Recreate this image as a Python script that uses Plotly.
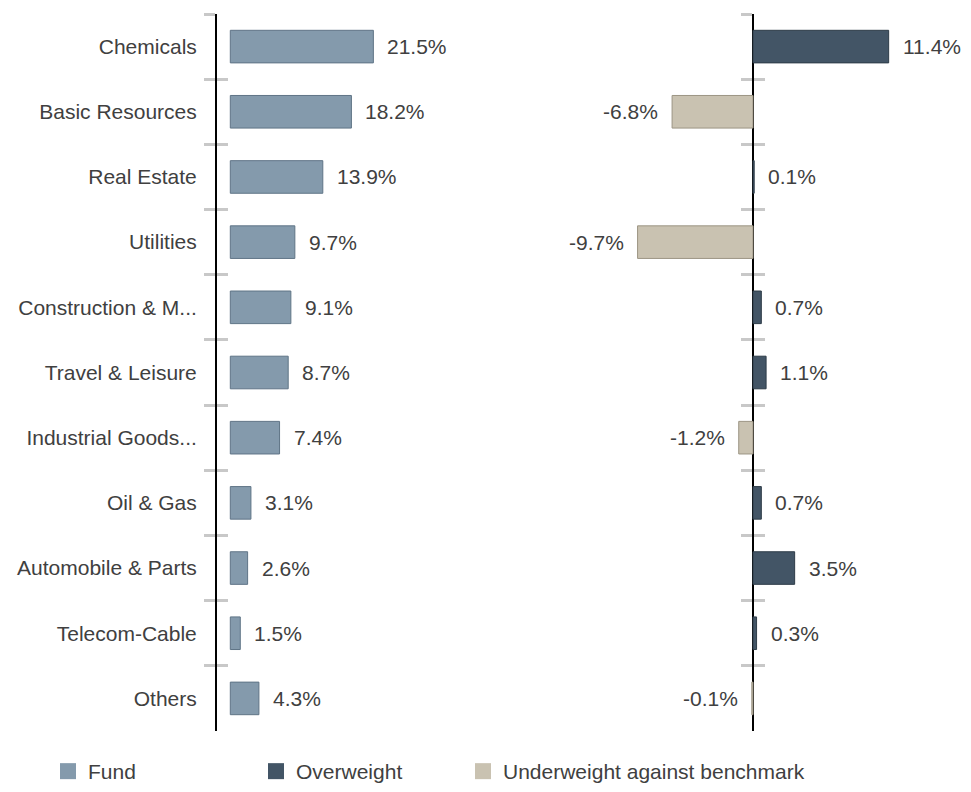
import plotly.graph_objects as go

categories = ["Chemicals", "Basic Resources", "Real Estate", "Utilities",
              "Construction & M...", "Travel & Leisure", "Industrial Goods...",
              "Oil & Gas", "Automobile & Parts", "Telecom-Cable", "Others"]
fund = [21.5, 18.2, 13.9, 9.7, 9.1, 8.7, 7.4, 3.1, 2.6, 1.5, 4.3]
active = [11.4, -6.8, 0.1, -9.7, 0.7, 1.1, -1.2, 0.7, 3.5, 0.3, -0.1]
legend_labels = ["Fund", "Overweight", "Underweight against benchmark"]

C_FUND = "#849aac"
C_OVER = "#435566"
C_UNDER = "#c9c2b1"
L_FUND = "#5f7486"
L_OVER = "#2e3c48"
L_UNDER = "#9c9584"
TXT = "#404040"
TICK = "#c8c8c8"
FONT = "Liberation Sans, Arial, sans-serif"
FS = 21

# figure sized so it fits inside the page body (default 8px margin)
W, H = 955, 776
ML, MR, MT, MB = 209, 0, 6, 53
PW = W - ML - MR
PH = H - MT - MB
split = (555 - ML) / PW
zero_pos = (745 - ML) / PW
right_scale = 11.9  # px per percentage point in the right panel
x2_range = [-(745 - 555) / right_scale, (W - 745) / right_scale]

over = [v if v >= 0 else None for v in active]
under = [v if v < 0 else None for v in active]

fig = go.Figure()
fig.add_trace(go.Bar(x=fund, y=categories, orientation="h", width=0.5,
                     marker=dict(color=C_FUND, line=dict(color=L_FUND, width=1)),
                     xaxis="x", yaxis="y", showlegend=False, hoverinfo="skip"))
fig.add_trace(go.Scatter(x=[0] * len(categories), y=categories, mode="markers",
                         marker=dict(opacity=0), xaxis="x", yaxis="y3",
                         showlegend=False, hoverinfo="skip"))
fig.add_trace(go.Bar(x=over, y=categories, orientation="h", width=0.5,
                     marker=dict(color=C_OVER, line=dict(color=L_OVER, width=1)),
                     xaxis="x2", yaxis="y2", showlegend=False, hoverinfo="skip"))
fig.add_trace(go.Bar(x=under, y=categories, orientation="h", width=0.5,
                     marker=dict(color=C_UNDER, line=dict(color=L_UNDER, width=1)),
                     xaxis="x2", yaxis="y2", showlegend=False, hoverinfo="skip"))
fig.add_trace(go.Scatter(x=[0] * len(categories), y=categories, mode="markers",
                         marker=dict(opacity=0), xaxis="x2", yaxis="y4",
                         showlegend=False, hoverinfo="skip"))

legend_ids = ["legend", "legend2", "legend3"]
for name, col, lid in zip(legend_labels, [C_FUND, C_OVER, C_UNDER], legend_ids):
    fig.add_trace(go.Scatter(x=[None], y=[None], mode="markers", name=name,
                             marker=dict(symbol="square", size=16, color=col),
                             xaxis="x", yaxis="y", legend=lid))

annotations = []
for c, v in zip(categories, fund):
    annotations.append(dict(x=v, y=c, xref="x", yref="y", text=f"{v:.1f}%",
                            showarrow=False, xanchor="left", xshift=12,
                            font=dict(size=FS, color=TXT, family=FONT)))
for c, v in zip(categories, active):
    annotations.append(dict(x=v, y=c, xref="x2", yref="y2", text=f"{v:.1f}%",
                            showarrow=False,
                            xanchor="left" if v >= 0 else "right",
                            xshift=12 if v >= 0 else -12,
                            font=dict(size=FS, color=TXT, family=FONT)))

cat_range = [len(categories) - 0.5, -0.5]
common_y = dict(type="category", categoryorder="array", categoryarray=categories,
                range=cat_range, tickson="boundaries", tickcolor=TICK,
                tickwidth=2.5, ticklen=11, showgrid=False, zeroline=False,
                domain=[0, 1])
hidden_x = dict(showgrid=False, zeroline=False, showline=False,
                showticklabels=False, ticks="")

leg_y = -(743 - (MT + PH)) / PH
def leg(xpix):
    return dict(orientation="h", x=(xpix - ML) / PW, xanchor="left", y=leg_y,
                yanchor="top", font=dict(size=FS, color=TXT, family=FONT),
                itemwidth=30, bgcolor="rgba(0,0,0,0)", borderwidth=0)

fig.update_layout(
    width=W, height=H,
    margin=dict(l=ML, r=MR, t=MT, b=MB, pad=0, autoexpand=False),
    paper_bgcolor="white", plot_bgcolor="rgba(0,0,0,0)",
    barmode="overlay",
    font=dict(family=FONT, size=FS, color=TXT),
    xaxis=dict(domain=[0, split], range=[-2, 50], anchor="y", **hidden_x),
    xaxis2=dict(domain=[split, 1], range=x2_range, anchor="y2", **hidden_x),
    yaxis=dict(anchor="x", ticks="outside", showline=True, linecolor="black",
               linewidth=2, ticklabelstandoff=14,
               tickfont=dict(size=FS, color=TXT, family=FONT), **common_y),
    yaxis3=dict(overlaying="y", anchor="x", ticks="inside", showline=False,
                showticklabels=False, **common_y),
    yaxis2=dict(anchor="free", position=zero_pos, ticks="outside", showline=True,
                linecolor="black", linewidth=2, showticklabels=False,
                layer="below traces", **common_y),
    yaxis4=dict(overlaying="y2", anchor="free", position=zero_pos, ticks="inside",
                showline=False, showticklabels=False, **common_y),
    legend=leg(40),
    legend2=leg(248),
    legend3=leg(455),
    annotations=annotations,
)

fig.write_html("out.html")
